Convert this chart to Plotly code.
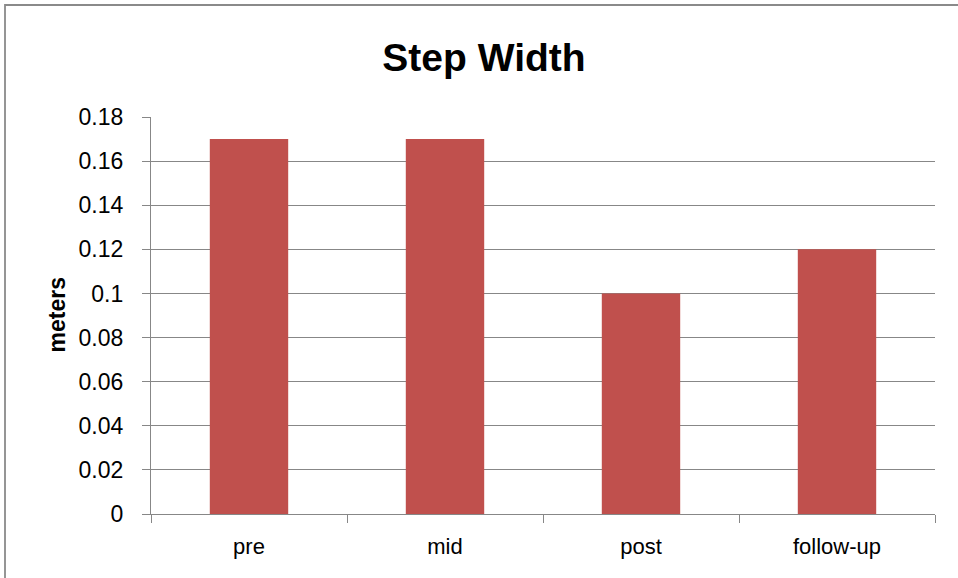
import plotly.graph_objects as go

phases = ["pre", "mid", "post", "follow-up"]
step_width_m = [0.17, 0.17, 0.10, 0.12]
y_ticks = [0, 0.02, 0.04, 0.06, 0.08, 0.10, 0.12, 0.14, 0.16, 0.18]
y_tick_text = ["0", "0.02", "0.04", "0.06", "0.08", "0.1", "0.12", "0.14", "0.16", "0.18"]

W, H = 958, 578
ML, MR, MT, MB = 151, 23, 117, 64
plot_w = W - ML - MR
plot_h = H - MT - MB

FONT = "Liberation Sans, Arial, sans-serif"
GRID = "#878787"

fig = go.Figure(
    go.Bar(
        x=phases,
        y=step_width_m,
        marker=dict(color="#C0504D", line=dict(width=0)),
        width=0.4,
    )
)

# outer chart frame (left and top edges visible; right/bottom run off the page)
fig.add_shape(
    type="rect", xref="paper", yref="paper",
    x0=(5 - ML) / plot_w, x1=(W + 20 - ML) / plot_w,
    y0=-(H + 20 - MT - plot_h) / plot_h, y1=(plot_h + MT - 5) / plot_h,
    line=dict(color="#8a8a8a", width=1.8), fillcolor="rgba(0,0,0,0)", layer="below",
)

# vertical axis caption
fig.add_annotation(
    text="<b>meters</b>", xref="paper", yref="paper",
    x=(56 - ML) / plot_w, y=0.5,
    xanchor="center", yanchor="middle", textangle=-90, showarrow=False,
    font=dict(family=FONT, size=23, color="black"),
)

fig.update_layout(
    width=W, height=H,
    margin=dict(l=ML, r=MR, t=MT, b=MB),
    paper_bgcolor="white", plot_bgcolor="white",
    showlegend=False,
    title=dict(
        text="<b>Step Width</b>", x=484 / W, xanchor="center",
        y=1 - 57 / H, yanchor="middle",
        font=dict(family=FONT, size=39, color="black"),
    ),
    font=dict(family=FONT, color="black"),
    bargap=0.6,
)

fig.update_xaxes(
    type="category",
    showline=True, linecolor=GRID, linewidth=1.3,
    ticks="outside", tickson="boundaries", ticklen=8, tickcolor=GRID, tickwidth=1.3,
    tickfont=dict(family=FONT, size=22, color="black"),
    ticklabelstandoff=12,
    showgrid=False,
)

fig.update_yaxes(
    range=[0, 0.18], tickvals=y_ticks, ticktext=y_tick_text,
    showline=True, linecolor=GRID, linewidth=1.3,
    ticks="outside", ticklen=8, tickcolor=GRID, tickwidth=1.3,
    ticklabelstandoff=14,
    showgrid=True, gridcolor=GRID, gridwidth=1.3,
    zeroline=False,
    tickfont=dict(family=FONT, size=23, color="black"),
)

fig.write_html("out.html")
